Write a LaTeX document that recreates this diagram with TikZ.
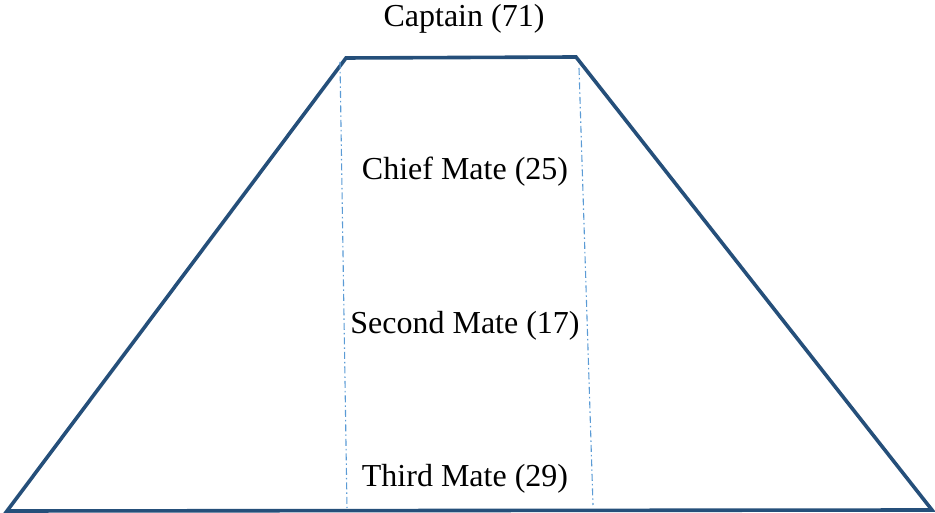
\documentclass[tikz,border=0pt]{standalone}
\usepackage{fontspec}
\setmainfont{Liberation Serif}
\definecolor{edge}{RGB}{37,79,122}
\definecolor{guide}{RGB}{91,155,213}
\tikzset{
  lbl/.style={font=\fontsize{32}{36}\selectfont, inner sep=0pt, text=black},
  outline/.style={draw=edge, line width=3.6pt, line join=miter},
  guideline/.style={draw=guide, line width=1.1pt, dash pattern=on 7pt off 3pt on 1.5pt off 3pt}
}
\begin{document}
\begin{tikzpicture}[x=1pt,y=1pt]
\useasboundingbox (0,0) rectangle (935,513);
\coordinate (bl) at (7,2);
\coordinate (br) at (932,3);
\coordinate (tl) at (346,455);
\coordinate (tr) at (576,456);
\draw[outline] (bl) -- (tl) -- (tr) -- (br) -- cycle;
\coordinate (gl1) at (340,451);
\coordinate (gl2) at (347,5);
\coordinate (gr1) at (579,445);
\coordinate (gr2) at (593,8);
\draw[guideline] (gl1) -- (gl2);
\draw[guideline] (gr1) -- (gr2);
\node[lbl] (captain) at (464,494) {Captain (71)};
\node[lbl] (chief) at (465,341) {Chief Mate (25)};
\node[lbl] (second) at (465,187) {Second Mate (17)};
\node[lbl] (third) at (465,34) {Third Mate (29)};
\end{tikzpicture}
\end{document}
